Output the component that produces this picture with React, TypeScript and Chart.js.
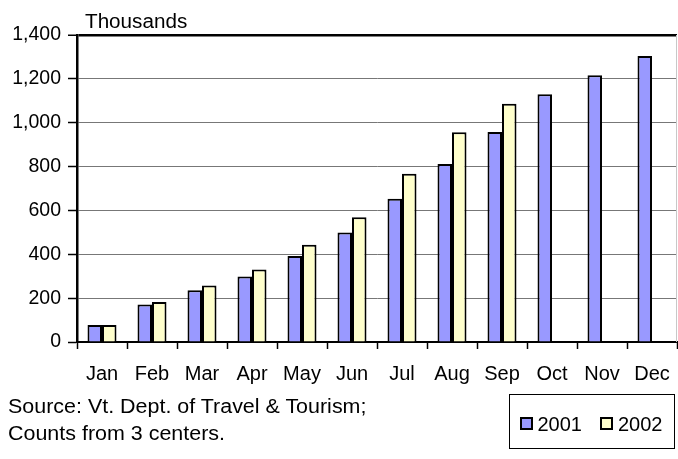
import React, { useEffect, useRef } from "react";
import { Chart, registerables } from "chart.js";

Chart.register(...registerables);

const months = ["Jan", "Feb", "Mar", "Apr", "May", "Jun", "Jul", "Aug", "Sep", "Oct", "Nov", "Dec"];
const visitors2001 = [78, 171, 236, 299, 392, 499, 653, 812, 958, 1130, 1217, 1304];
const visitors2002: (number | null)[] = [78, 182, 258, 331, 444, 569, 767, 956, 1086, null, null, null];
const seriesNames = ["2001", "2002"];
const seriesColors = ["#9999FF", "#FFFFCC"];
const yMin = 0;
const yMax = 1400;
const yStep = 200;
const unitLabel = "Thousands";
const sourceLines = ["Source: Vt. Dept. of Travel & Tourism;", "Counts from 3 centers."];

const FONT = "'Liberation Sans', Arial, Helvetica, sans-serif";

const rightEdgePlugin = {
  id: "rightEdge",
  afterDraw(chart: any) {
    const { ctx, chartArea } = chart;
    ctx.save();
    ctx.strokeStyle = "#c8c8c8";
    ctx.lineWidth = 1;
    ctx.beginPath();
    ctx.moveTo(chartArea.right - 0.5, chartArea.top);
    ctx.lineTo(chartArea.right - 0.5, chartArea.bottom);
    ctx.stroke();
    ctx.restore();
  },
};

export default function App() {
  const canvasRef = useRef<HTMLCanvasElement | null>(null);

  useEffect(() => {
    const canvas = canvasRef.current;
    if (!canvas) return;
    const chart = new Chart(canvas, {
      type: "bar",
      data: {
        labels: months,
        datasets: [
          {
            label: seriesNames[0],
            data: visitors2001,
            backgroundColor: seriesColors[0],
            borderColor: "#000000",
            borderWidth: 2,
            categoryPercentage: 0.58,
            barPercentage: 1.0,
          },
          {
            label: seriesNames[1],
            data: visitors2002,
            backgroundColor: seriesColors[1],
            borderColor: "#000000",
            borderWidth: 2,
            categoryPercentage: 0.58,
            barPercentage: 1.0,
          },
        ],
      },
      options: {
        animation: false,
        responsive: false,
        maintainAspectRatio: false,
        devicePixelRatio: 1,
        layout: { padding: { left: 0, top: 35, right: 1, bottom: 65 } },
        plugins: {
          legend: { display: false },
          tooltip: { enabled: false },
          title: { display: false },
        },
        scales: {
          x: {
            grid: {
              display: true,
              drawOnChartArea: false,
              drawTicks: true,
              tickLength: 7,
              tickColor: "#000000",
              tickWidth: 1.5,
              offset: true,
            },
            border: { display: true, color: "#000000", width: 2 },
            ticks: {
              color: "#000000",
              font: { family: FONT, size: 20 },
              padding: 13,
              maxRotation: 0,
              autoSkip: false,
            },
            afterFit: (scale: any) => {
              scale.height = 52;
              scale.paddingLeft = 0;
              scale.paddingRight = 0;
            },
          },
          y: {
            min: yMin,
            max: yMax,
            grid: {
              color: (ctx: any) => (ctx.tick && ctx.tick.value === yMax ? "#000000" : "#777777"),
              lineWidth: (ctx: any) => (ctx.tick && ctx.tick.value === yMax ? 2.5 : 1),
              drawTicks: true,
              tickLength: 9,
              tickColor: "#000000",
              tickWidth: 1.5,
            },
            border: { display: true, color: "#000000", width: 2.5 },
            ticks: {
              stepSize: yStep,
              color: "#000000",
              font: { family: FONT, size: 19.5 },
              padding: 7,
              callback: (v: any) => Number(v).toLocaleString("en-US"),
            },
            afterFit: (scale: any) => {
              scale.width = 77;
            },
          },
        },
      },
      plugins: [rightEdgePlugin],
    });
    return () => chart.destroy();
  }, []);

  const swatch = (color: string, left: number) => (
    <div
      style={{
        position: "absolute",
        left,
        top: 22,
        width: 13,
        height: 13,
        boxSizing: "border-box",
        border: "2px solid #000",
        background: color,
      }}
    />
  );

  const legText = (text: string, left: number) => (
    <div
      style={{
        position: "absolute",
        left,
        top: 19,
        fontFamily: FONT,
        fontSize: 20,
        lineHeight: "20px",
        color: "#000",
        whiteSpace: "nowrap",
      }}
    >
      {text}
    </div>
  );

  return (
    <div style={{ position: "absolute", left: 0, top: 0, width: 678, height: 459, background: "#fff", overflow: "hidden" }}>
      <canvas ref={canvasRef} width={678} height={459} style={{ display: "block", width: 678, height: 459 }} />
      <div
        style={{
          position: "absolute",
          left: 85,
          top: 10.5,
          fontFamily: FONT,
          fontSize: 19.5,
          lineHeight: "20px",
          color: "#000",
          whiteSpace: "nowrap",
          transform: "scaleX(1.06)",
          transformOrigin: "left top",
        }}
      >
        {unitLabel}
      </div>
      <div
        style={{
          position: "absolute",
          left: 8,
          top: 393,
          fontFamily: FONT,
          fontSize: 19.5,
          lineHeight: "27.4px",
          color: "#000",
          whiteSpace: "nowrap",
          transform: "scaleX(1.1)",
          transformOrigin: "left top",
        }}
      >
        {sourceLines.map((l, i) => (
          <div key={i}>{l}</div>
        ))}
      </div>
      <div
        style={{
          position: "absolute",
          left: 509,
          top: 394,
          width: 166,
          height: 55,
          boxSizing: "border-box",
          border: "1px solid #000",
          background: "#fff",
        }}
      >
        {swatch(seriesColors[0], 10)}
        {legText(seriesNames[0], 27.5)}
        {swatch(seriesColors[1], 90)}
        {legText(seriesNames[1], 108)}
      </div>
    </div>
  );
}
